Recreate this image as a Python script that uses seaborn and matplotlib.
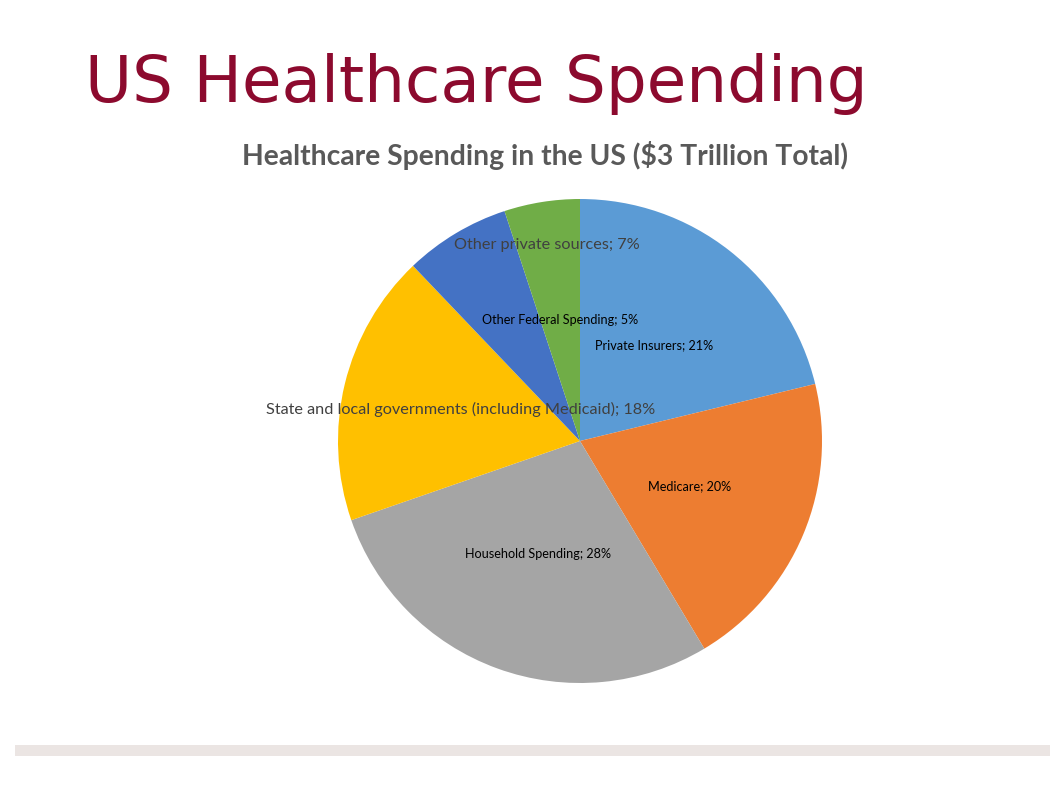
import matplotlib
matplotlib.use("Agg")
import matplotlib.pyplot as plt
import seaborn as sns

sns.set_theme(style="white")
plt.rcParams['font.family'] = ['Lato', 'DejaVu Sans']

categories = ["Private Insurers", "Medicare", "Household Spending",
              "State and local governments (including Medicaid)",
              "Other private sources", "Other Federal Spending"]
values = [21, 20, 28, 18, 7, 5]
colors = ["#5B9BD5", "#ED7D31", "#A5A5A5", "#FFC000", "#4472C4", "#70AD47"]

# label layout (figure pixel centres), font sizes, colours
label_pos = [(654, 345), (690, 486), (538, 554), (461, 409), (547, 245), (560, 320)]
label_size = [9.1, 9.1, 9.1, 11.7, 11.7, 9.1]
label_color = ["#000000", "#000000", "#000000", "#404040", "#404040", "#000000"]

W, H = 1062, 797
fig = plt.figure(figsize=(W / 100, H / 100), dpi=100)
fig.patch.set_facecolor("white")

cx, cy, r = 580, 441, 242
ax = fig.add_axes([(cx - r) / W, (H - cy - r) / H, 2 * r / W, 2 * r / H])
ax.pie(values, colors=colors, startangle=90, counterclock=False,
       wedgeprops=dict(linewidth=0))
ax.set_xlim(-1, 1)
ax.set_ylim(-1, 1)
ax.set_aspect("auto")
ax.axis("off")

for cat, v, (px, py), fs, c in zip(categories, values, label_pos, label_size, label_color):
    fig.text(px / W, 1 - py / H, f"{cat}; {v}%", ha="center", va="center",
             fontsize=fs, color=c)

fig.text(85 / W, 1 - 84 / H, "US Healthcare Spending", ha="left", va="center",
         fontsize=46.4, color="#8C0A2E", family=["DejaVu Sans"])
fig.text(545 / W, 1 - 156 / H, "Healthcare Spending in the US ($3 Trillion Total)",
         ha="center", va="center", fontsize=20.3, fontweight="bold", color="#595959")

# footer band
band = fig.add_axes([15 / W, 1 - 756 / H, 1035 / W, 11 / H])
band.set_facecolor("#EBE5E3")
band.set_xticks([]); band.set_yticks([])
for s in band.spines.values():
    s.set_visible(False)

fig.savefig("out.png", dpi=100, facecolor="white")
